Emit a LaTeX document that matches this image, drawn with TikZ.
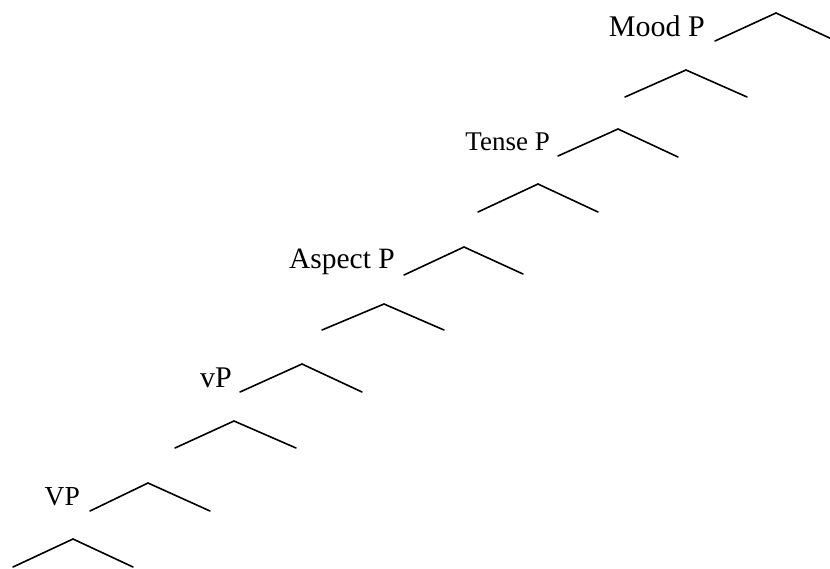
\documentclass[tikz,border=0pt]{standalone}
\usepackage{fontspec}
\setmainfont{Liberation Serif}
\begin{document}
\begin{tikzpicture}[x=1pt,y=-1pt,
  branch/.style={line width=1.6pt,line cap=round,line join=miter},
  phrase/.style={anchor=base east,inner sep=0pt},
  fs/.style={font=\fontsize{#1}{#1}\selectfont}]
\useasboundingbox (0,0) rectangle (830,568);
\clip (0,0) rectangle (830,568);
% apex / left foot / right foot of each branching
\foreach \n/\ax/\ay/\lx/\ly/\rx/\ry in {
  m/776/13/715/41/836/41,
  a/686/70/625/97/747/97,
  t/618/129/558/156/678/157,
  b/538/184/478/212/598/212,
  s/464/247/404/275/523/274,
  c/384/304/322/330/444/330,
  v/302/364/240/392/362/392,
  d/234/421/175/448/296/448,
  w/148/483/90/511/210/511,
  e/73/539/13/567/133/567}{
  \coordinate (\n-top) at (\ax,\ay);
  \coordinate (\n-l) at (\lx,\ly);
  \coordinate (\n-r) at (\rx,\ry);
  \draw[branch] (\n-l) -- (\n-top) -- (\n-r);
}
% projection labels
\node[phrase,fs=30] (mood) at (705,36) {Mood P};
\node[phrase,fs=27] (tense) at (550,150) {Tense P};
\node[phrase,fs=29.5] (aspect) at (395,268) {Aspect P};
\node[phrase,fs=30] (little) at (232,387) {vP};
\node[phrase,fs=27.5] (verb) at (80,505) {VP};
\end{tikzpicture}
\end{document}
